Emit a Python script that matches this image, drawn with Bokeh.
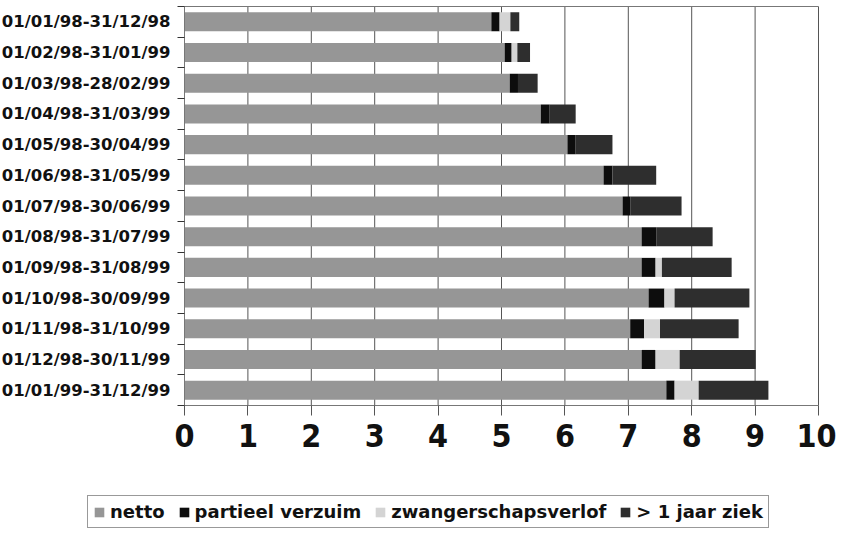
from bokeh.plotting import figure
from bokeh.models import ColumnDataSource, FixedTicker, Range1d, Legend, LegendItem
from bokeh.embed import file_html
from bokeh.resources import INLINE

periods = ["01/01/98-31/12/98", "01/02/98-31/01/99", "01/03/98-28/02/99",
           "01/04/98-31/03/99", "01/05/98-30/04/99", "01/06/98-31/05/99",
           "01/07/98-30/06/99", "01/08/98-31/07/99", "01/09/98-31/08/99",
           "01/10/98-30/09/99", "01/11/98-31/10/99", "01/12/98-30/11/99",
           "01/01/99-31/12/99"]
netto = [4.84, 5.05, 5.13, 5.62, 6.04, 6.61, 6.91, 7.21, 7.21, 7.32, 7.03, 7.21, 7.60]
partieel = [0.13, 0.11, 0.13, 0.14, 0.13, 0.14, 0.12, 0.23, 0.22, 0.25, 0.22, 0.22, 0.13]
zwanger = [0.17, 0.09, 0.00, 0.00, 0.00, 0.00, 0.00, 0.00, 0.10, 0.16, 0.25, 0.38, 0.38]
ziek = [0.14, 0.20, 0.31, 0.41, 0.58, 0.69, 0.81, 0.89, 1.10, 1.18, 1.24, 1.20, 1.10]
series = ["netto", "partieel verzuim", "zwangerschapsverlof", "> 1 jaar ziek"]
x_ticks = list(range(0, 11))

n = len(periods)
ypos = [n - 0.5 - i for i in range(n)]
src = ColumnDataSource(dict(y=ypos, netto=netto, partieel=partieel, zwanger=zwanger, ziek=ziek))

# layout (pixels): whole figure is the frame; chart area placed inside it
W, H = 836, 529
AX_L, AX_R, AX_T, AX_B = 184, 818, 6, 405
xmin, xmax = x_ticks[0], x_ticks[-1]
sx = (AX_R - AX_L) / (xmax - xmin)
sy = (AX_B - AX_T) / n
x_range = Range1d(xmin - AX_L / sx, xmax + (W - AX_R) / sx)
y_range = Range1d(0 - (H - AX_B) / sy, n + AX_T / sy)

p = figure(width=W, height=H, output_backend="svg", toolbar_location=None,
           x_range=x_range, y_range=y_range,
           min_border_left=0, min_border_right=0, min_border_top=0, min_border_bottom=0)
p.outline_line_color = None
p.grid.visible = False
p.background_fill_color = "white"
p.border_fill_color = "white"

# vertical grid lines and chart border
p.segment(x0=x_ticks, x1=x_ticks, y0=[0] * len(x_ticks), y1=[n] * len(x_ticks),
          line_color="#555555", line_width=1)
p.segment(x0=[xmin], x1=[xmax], y0=[n], y1=[n], line_color="#777777", line_width=1)

colors = ["#969696", "#0d0d0d", "#d4d4d4", "#2e2e2e"]
rs = p.hbar_stack(["netto", "partieel", "zwanger", "ziek"], y="y", height=0.62, color=colors,
                  source=src, line_color=None)

# x axis
xa = p.xaxis[0]
xa.fixed_location = 0
xa.bounds = (xmin, xmax)
xa.ticker = FixedTicker(ticks=x_ticks)
xa.major_label_text_font = "DejaVu Sans Condensed"
xa.major_label_text_font_style = "bold"
xa.major_label_text_font_size = "32px"
xa.major_label_text_color = "#111111"
xa.major_tick_in = 0
xa.major_tick_out = 10
xa.minor_tick_out = 0
xa.minor_tick_in = 0
xa.axis_line_color = "#777777"
xa.major_tick_line_color = "#555555"
xa.major_label_standoff = 8

# y axis
ya = p.yaxis[0]
ya.fixed_location = xmin
ya.bounds = (0, n)
ya.ticker = FixedTicker(ticks=ypos, minor_ticks=list(range(0, n + 1)))
ya.major_label_overrides = {y: lab for y, lab in zip(ypos, periods)}
ya.major_label_text_font = "DejaVu Sans"
ya.major_label_text_font_style = "bold"
ya.major_label_text_font_size = "16.5px"
ya.major_label_text_color = "#111111"
ya.major_tick_in = 0
ya.major_tick_out = 0
ya.minor_tick_in = 0
ya.minor_tick_out = 7
ya.minor_tick_line_color = "#333333"
ya.minor_tick_line_width = 1
ya.axis_line_color = "#777777"
ya.major_label_standoff = 7

legend = Legend(items=[LegendItem(label=s, renderers=[r]) for s, r in zip(series, rs)],
                orientation="horizontal", location=(87, 1))
legend.label_text_font = "DejaVu Sans"
legend.label_text_font_style = "bold"
legend.label_text_font_size = "18px"
legend.label_text_color = "#111111"
legend.label_height = 18
legend.glyph_width = 12
legend.glyph_height = 12
legend.label_standoff = 5
legend.spacing = 13
legend.padding = 5
legend.margin = 0
legend.border_line_color = "#333333"
legend.border_line_width = 1
p.add_layout(legend)

open("out.html", "w").write(file_html(p, INLINE))
